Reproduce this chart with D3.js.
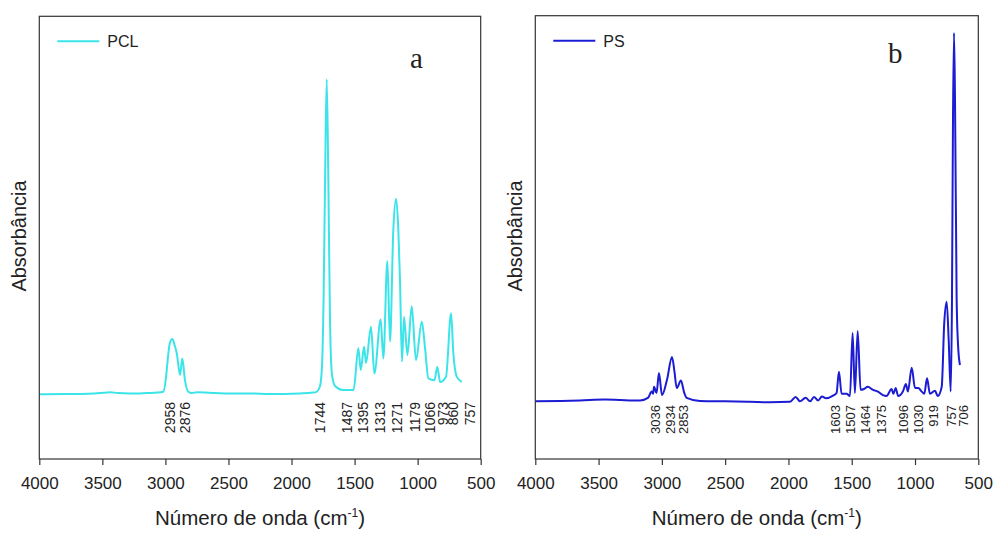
<!DOCTYPE html>
<html>
<head>
<meta charset="utf-8">
<script src="https://cdn.jsdelivr.net/npm/d3@7"></script>
<style>
  body { margin: 0; background: #fff; }
  text { font-family: "Liberation Sans", Arial, sans-serif; fill: #222; }
</style>
</head>
<body>
<svg id="chart" width="993" height="533"></svg>
<script>
// x axis ticks (wavenumber, cm-1)
const xTicks = [4000, 3500, 3000, 2500, 2000, 1500, 1000, 500];

// PCL spectrum (wavenumber, absorbance in arbitrary units)
const pclWave = [4000, 3800, 3677, 3520, 3439, 3380, 3281, 3150, 3060, 3017, 2995, 2982, 2965, 2945, 2928,
    2910, 2884, 2866, 2845, 2818, 2789, 2749, 2600, 2488, 2330, 2170, 2050, 1933, 1830, 1806, 1774, 1758,
    1746, 1734, 1721, 1708, 1695, 1679, 1655, 1592, 1508, 1470, 1451, 1425, 1409, 1370, 1343, 1293, 1272,
    1240, 1219, 1193, 1171, 1153, 1140, 1124, 1108, 1081, 1047, 1013, 967, 941, 915, 867, 844, 822, 775,
    735, 717, 690, 650];
const pclAbs = [0.146, 0.147, 0.147, 0.149, 0.151, 0.149, 0.148, 0.149, 0.150, 0.152, 0.185, 0.2235, 0.262, 0.271, 0.258,
    0.239, 0.190, 0.227, 0.178, 0.152, 0.149, 0.151, 0.149, 0.148, 0.148, 0.147, 0.147, 0.148, 0.150, 0.151, 0.165, 0.212,
    0.359, 0.630, 0.858, 0.630, 0.314, 0.190, 0.165, 0.156, 0.156, 0.250, 0.201, 0.2535, 0.217, 0.299, 0.193, 0.315, 0.227,
    0.447, 0.265, 0.517, 0.588, 0.517, 0.404, 0.220, 0.321, 0.235, 0.345, 0.2235, 0.310, 0.250, 0.182, 0.178, 0.208, 0.174, 0.186,
    0.329, 0.239, 0.186, 0.174];

// PS spectrum
const psWave = [4000, 3800, 3647, 3450, 3331, 3173, 3110, 3080, 3070, 3062, 3042, 3023, 2999, 2960, 2920,
    2900, 2883, 2849, 2825, 2804, 2699, 2500, 2304, 2150, 1988, 1943, 1909, 1864, 1829, 1798, 1766, 1735,
    1703, 1648, 1620, 1601, 1580, 1540, 1514, 1493, 1475, 1453, 1430, 1403, 1374, 1332, 1293, 1254, 1225,
    1185, 1171, 1153, 1133, 1095, 1072, 1056, 1026, 1000, 974, 947, 927, 905, 882, 842, 821, 789, 769,
    750, 734, 718, 708, 700, 692, 684, 671, 660, 645];
const psAbs = [0.130, 0.131, 0.132, 0.134, 0.133, 0.132, 0.138, 0.152, 0.147, 0.163, 0.149, 0.194, 0.144, 0.178, 0.230,
    0.196, 0.160, 0.177, 0.151, 0.138, 0.131, 0.130, 0.129, 0.128, 0.129, 0.140, 0.130, 0.138, 0.130, 0.140, 0.132, 0.141,
    0.137, 0.143, 0.149, 0.197, 0.147, 0.147, 0.142, 0.284, 0.149, 0.289, 0.156, 0.158, 0.163, 0.156, 0.152, 0.144, 0.142,
    0.158, 0.147, 0.160, 0.142, 0.153, 0.169, 0.152, 0.206, 0.160, 0.160, 0.152, 0.147, 0.182, 0.147, 0.154, 0.142, 0.163, 0.307,
    0.355, 0.269, 0.152, 0.359, 0.765, 0.961, 0.810, 0.359, 0.257, 0.212];

// peak labels and the wavenumber where each label is written (they are spread out in the figure)
const pclPeaks = ["2958", "2876", "1744", "1487", "1395", "1313", "1271", "1179", "1066", "973", "860", "757"];
const pclPeakAt = [2963, 2845, 1774, 1562, 1433, 1298, 1166, 1021, 902, 799, 720, 585];
const psPeaks = ["3036", "2934", "2853", "1603", "1507", "1464", "1375", "1096", "1030", "919", "757", "706"];
const psPeakAt = [3049, 2936, 2833, 1632, 1514, 1388, 1263, 1095, 976, 854, 713, 615];

const svg = d3.select("#chart");

function drawPanel(p) {
    const x = d3.scaleLinear().domain([4000, 500]).range([p.left, p.right]);
    const y = d3.scaleLinear().domain([0, 1]).range([p.bottom, p.top]);
    const g = svg.append("g");

    // spectrum line
    const pts = d3.zip(p.wave, p.abs);
    g.append("path")
        .datum(pts)
        .attr("fill", "none")
        .attr("stroke", p.color)
        .attr("stroke-width", 2)
        .attr("stroke-linejoin", "round")
        .attr("d", d3.line().x(d => x(d[0])).y(d => y(d[1])).curve(d3.curveMonotoneX));

    // frame
    g.append("rect")
        .attr("x", p.left).attr("y", p.top)
        .attr("width", p.right - p.left).attr("height", p.bottom - p.top)
        .attr("fill", "none").attr("stroke", "#333").attr("stroke-width", 1.2);

    // bottom axis, ticks going out
    const ax = g.append("g")
        .attr("transform", `translate(0,${p.bottom})`)
        .call(d3.axisBottom(x).tickValues(xTicks).tickSize(6).tickPadding(11.5).tickFormat(d3.format("d")));
    ax.select(".domain").remove();
    ax.selectAll(".tick line").attr("stroke", "#333").attr("stroke-width", 1.2);
    ax.selectAll(".tick text")
        .style("font-family", "'Liberation Sans', Arial, sans-serif")
        .style("font-size", "17px").attr("fill", "#222");

    // axis titles
    const xt = g.append("text")
        .attr("x", (p.left + p.right) / 2).attr("y", 525)
        .attr("text-anchor", "middle").style("font-size", "20.5px");
    xt.append("tspan").text("Número de onda (cm");
    xt.append("tspan").attr("dy", -8).style("font-size", "12px").text("-1");
    xt.append("tspan").attr("dy", 8).text(")");

    g.append("text")
        .attr("transform", `translate(${p.left - 13},236) rotate(-90)`)
        .attr("text-anchor", "middle").style("font-size", "20px")
        .text("Absorbância");

    // legend
    g.append("line")
        .attr("x1", p.left + 18).attr("x2", p.left + 60)
        .attr("y1", p.top + 25).attr("y2", p.top + 25)
        .attr("stroke", p.color).attr("stroke-width", 2);
    g.append("text")
        .attr("x", p.left + 68).attr("y", p.top + 31)
        .style("font-size", "16px").text(p.name);

    // panel letter
    g.append("text")
        .attr("x", p.letterX).attr("y", p.letterY)
        .style("font-family", "'Liberation Serif', 'Times New Roman', serif")
        .style("font-size", "29px").text(p.letter);

    // peak labels, vertical
    g.selectAll(".peak")
        .data(d3.zip(p.peaks, p.peakAt))
        .join("text")
        .attr("class", "peak")
        .attr("transform", d => `translate(${x(d[1])},${p.labelTop}) rotate(-90)`)
        .attr("text-anchor", "end")
        .attr("dy", "0.35em")
        .style("font-size", p.labelSize)
        .text(d => d[0]);
}

drawPanel({
    left: 39.3, right: 480.7, top: 16.3, bottom: 459,
    wave: pclWave, abs: pclAbs, color: "#3ae4e8", name: "PCL",
    letter: "a", letterX: 410, letterY: 68,
    peaks: pclPeaks, peakAt: pclPeakAt, labelTop: 402, labelSize: "14px"
});

drawPanel({
    left: 535.3, right: 978.3, top: 15.7, bottom: 459,
    wave: psWave, abs: psAbs, color: "#1c1cd2", name: "PS",
    letter: "b", letterX: 888, letterY: 63,
    peaks: psPeaks, peakAt: psPeakAt, labelTop: 405, labelSize: "13px"
});
</script>
</body>
</html>
